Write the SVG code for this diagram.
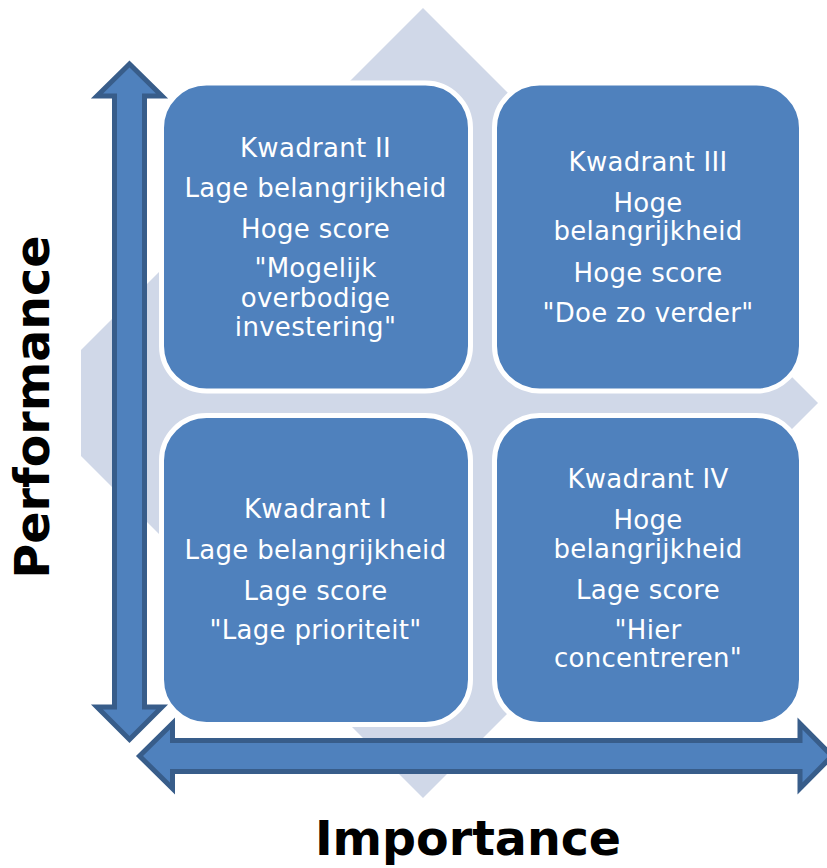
<svg xmlns="http://www.w3.org/2000/svg" width="827" height="868" viewBox="0 0 827 868">
<style>
.bg{fill:#D0D8E8}
.box{fill:#4F81BD;stroke:#FFFFFF;stroke-width:5}
.arr{fill:#4F81BD;stroke:#385D8A;stroke-width:5;stroke-linejoin:miter}
.t{font-family:"DejaVu Sans","Verdana",sans-serif;font-size:26px;letter-spacing:0.3px;fill:#FFFFFF;text-anchor:middle}
.ax{font-family:"DejaVu Sans","Verdana",sans-serif;font-size:47.5px;font-weight:bold;fill:#000000;text-anchor:middle}
</style>
<rect width="827" height="868" fill="#FFFFFF"/>
<g id="background">
<polygon class="bg" points="423,8 573,158 513,158 513,313 668,313 668,253 818,403 668,553 668,493 513,493 513,648 573,648 423,798 273,648 333,648 333,493 178,493 178,553 81,456 81,350 178,253 178,313 333,313 333,158 273,158"/>
</g>
<g id="q2">
<rect class="box" x="161.5" y="83" width="309" height="308" rx="45" ry="45"/>
<text class="t" x="315.5" y="157">Kwadrant II</text>
<text class="t" x="315.5" y="197">Lage belangrijkheid</text>
<text class="t" x="315.5" y="238">Hoge score</text>
<text class="t" x="315.5" y="277">"Mogelijk</text>
<text class="t" x="315.5" y="307">overbodige</text>
<text class="t" x="315.5" y="336">investering"</text>
</g>
<g id="q3">
<rect class="box" x="494.5" y="83" width="307" height="308" rx="45" ry="45"/>
<text class="t" x="648" y="171">Kwadrant III</text>
<text class="t" x="648" y="212">Hoge</text>
<text class="t" x="648" y="240">belangrijkheid</text>
<text class="t" x="648" y="282">Hoge score</text>
<text class="t" x="648" y="322">"Doe zo verder"</text>
</g>
<g id="q1">
<rect class="box" x="161.5" y="415.5" width="309" height="309" rx="45" ry="45"/>
<text class="t" x="315.5" y="518">Kwadrant I</text>
<text class="t" x="315.5" y="559">Lage belangrijkheid</text>
<text class="t" x="315.5" y="600">Lage score</text>
<text class="t" x="315.5" y="639">"Lage prioriteit"</text>
</g>
<g id="q4">
<rect class="box" x="494.5" y="415.5" width="307" height="309" rx="45" ry="45"/>
<text class="t" x="648" y="488">Kwadrant IV</text>
<text class="t" x="648" y="529">Hoge</text>
<text class="t" x="648" y="558">belangrijkheid</text>
<text class="t" x="648" y="599">Lage score</text>
<text class="t" x="648" y="639">"Hier</text>
<text class="t" x="648" y="667">concentreren"</text>
</g>
<g id="connectors">
<path id="performance-axis" class="arr" d="M129.5,64 L162,96 L144.5,96 L144.5,707 L162,707 L129.5,739.5 L97,707 L114.5,707 L114.5,96 L97,96 Z"/>
<path id="importance-axis" class="arr" d="M139.5,756 L172.5,723.5 L172.5,740.5 L800,740.5 L800,723.5 L832,756 L800,788.5 L800,771.5 L172.5,771.5 L172.5,788.5 Z"/>
</g>
<g id="labels">
<text class="ax" transform="translate(49,407) rotate(-90)">Performance</text>
<text class="ax" x="468" y="855">Importance</text>
</g>
</svg>
